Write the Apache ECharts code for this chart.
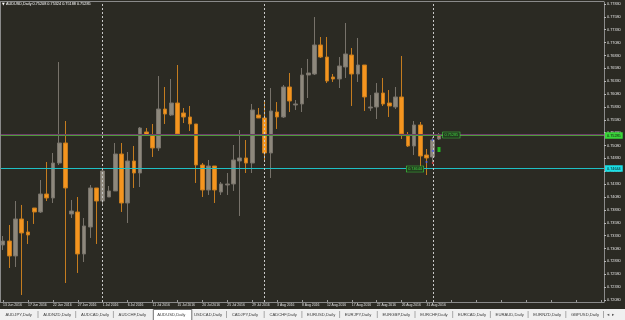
<!DOCTYPE html>
<html><head><meta charset="utf-8">
<script src="https://cdn.jsdelivr.net/npm/echarts@6/dist/echarts.min.js"></script>
<style>html,body{margin:0;padding:0;background:#2b2a23;}#c{width:625px;height:320px;}</style>
</head><body><div id="c"></div>
<script>
const symbolTitle = 'AUDUSD,Daily';
const dates = ['13 Jun 2016','14 Jun 2016','15 Jun 2016','16 Jun 2016','17 Jun 2016','19 Jun 2016','20 Jun 2016','21 Jun 2016','22 Jun 2016','23 Jun 2016',
'24 Jun 2016','26 Jun 2016','27 Jun 2016','28 Jun 2016','29 Jun 2016','30 Jun 2016','1 Jul 2016','3 Jul 2016','4 Jul 2016','5 Jul 2016',
'6 Jul 2016','7 Jul 2016','8 Jul 2016','10 Jul 2016','11 Jul 2016','12 Jul 2016','13 Jul 2016','14 Jul 2016','15 Jul 2016','17 Jul 2016',
'18 Jul 2016','19 Jul 2016','20 Jul 2016','21 Jul 2016','22 Jul 2016','24 Jul 2016','25 Jul 2016','26 Jul 2016','27 Jul 2016','28 Jul 2016',
'29 Jul 2016','31 Jul 2016','1 Aug 2016','2 Aug 2016','3 Aug 2016','4 Aug 2016','5 Aug 2016','7 Aug 2016','8 Aug 2016','9 Aug 2016',
'10 Aug 2016','11 Aug 2016','12 Aug 2016','14 Aug 2016','15 Aug 2016','16 Aug 2016','17 Aug 2016','18 Aug 2016','19 Aug 2016','21 Aug 2016',
'22 Aug 2016','23 Aug 2016','24 Aug 2016','25 Aug 2016','26 Aug 2016','28 Aug 2016','29 Aug 2016','30 Aug 2016','31 Aug 2016','1 Sep 2016',
'2 Sep 2016'];
const opens = [0.73149,0.73226,0.72935,0.73654,0.73401,0.73867,0.73790,0.74139,0.74062,0.74741,
0.75130,0.73751,0.73790,0.72974,0.73498,0.74256,0.74003,0.74081,0.74198,0.74916,
0.73964,0.74780,0.74547,0.75344,0.75285,0.75033,0.75790,0.75674,0.75907,0.75713,
0.75635,0.75499,0.74703,0.74217,0.74683,0.74178,0.74314,0.74334,0.74780,0.74839,
0.74741,0.75674,0.75616,0.74936,0.75732,0.75635,0.76218,0.75868,0.75888,0.76451,
0.76470,0.77034,0.76800,0.76412,0.76373,0.76606,0.76839,0.76470,0.76645,0.75810,
0.75829,0.76101,0.75907,0.75829,0.76024,0.75266,0.75072,0.75480,0.74897,0.74858,
0.75208];
const closes = [0.73226,0.72935,0.73654,0.73382,0.73343,0.73790,0.74139,0.74062,0.74741,0.75130,
0.74256,0.73809,0.72974,0.73518,0.74256,0.74003,0.74586,0.74198,0.74916,0.73964,
0.74780,0.74547,0.75421,0.75285,0.75033,0.75790,0.75693,0.75907,0.75305,0.75635,
0.75499,0.74703,0.74217,0.74683,0.74217,0.74334,0.74334,0.74800,0.74839,0.74741,
0.75771,0.75616,0.74936,0.75752,0.75635,0.76218,0.75946,0.75888,0.76451,0.76490,
0.77034,0.76800,0.76334,0.76373,0.76626,0.76859,0.76470,0.76645,0.76024,0.75829,
0.76101,0.75888,0.75849,0.76024,0.75305,0.75072,0.75480,0.74877,0.74839,0.75188,
0.75285];
const lows = [0.73051,0.72702,0.72721,0.72177,0.73168,0.73557,0.73770,0.74003,0.73964,0.74703,
0.72410,0.73673,0.72605,0.72818,0.73285,0.73168,0.73926,0.74081,0.74198,0.73790,
0.73576,0.74256,0.74275,0.75285,0.74858,0.74975,0.75499,0.75654,0.75305,0.75518,
0.75363,0.74353,0.74081,0.74120,0.73964,0.74120,0.74120,0.74198,0.73712,0.74547,
0.74547,0.75616,0.74800,0.74450,0.75402,0.75616,0.75732,0.75771,0.75732,0.76004,
0.76451,0.76781,0.76295,0.76315,0.76198,0.76393,0.75849,0.76315,0.75752,0.75752,
0.75596,0.75849,0.75635,0.75790,0.75208,0.75052,0.74897,0.74664,0.74508,0.74761,
0.75188];
const highs = [0.73323,0.73537,0.74003,0.73926,0.73615,0.73867,0.74411,0.74761,0.74936,0.76703,
0.75557,0.74023,0.74081,0.73673,0.74314,0.74256,0.74644,0.74295,0.75130,0.75130,
0.74955,0.75072,0.75441,0.75421,0.75499,0.76431,0.76218,0.76373,0.76645,0.75810,
0.75849,0.75499,0.74741,0.74800,0.74683,0.74372,0.74547,0.75091,0.75382,0.75188,
0.75888,0.75810,0.75965,0.76198,0.75926,0.76257,0.76490,0.75965,0.76587,0.76762,
0.77577,0.77189,0.77189,0.76470,0.76800,0.77461,0.76975,0.77170,0.76645,0.76062,
0.76295,0.76393,0.76159,0.76218,0.76820,0.75344,0.75557,0.75538,0.75013,0.75246,
0.75324];
const priceTicks = [0.77830,0.77580,0.77330,0.77080,0.76830,0.76580,0.76330,0.76080,0.75830,0.75580,
0.75330,0.75080,0.74830,0.74580,0.74330,0.74080,0.73830,0.73580,0.73330,0.73080,
0.72830,0.72580,0.72330,0.72080];
const levelLines = [0.75285, 0.74644];
const monthSeparators = ['1 Jul 2016','1 Aug 2016','1 Sep 2016'];
const signalBlue = [[69, 0.75188], [69, 0.74975], [68, 0.74761]];
const signalRed = [[70, 0.75266], [69, 0.74741]];
const signalGreen = [[70, 0.75003]];
const tabNames = ['AUDJPY,Daily','AUDNZD,Daily','AUDCAD,Daily','AUDCHF,Daily','AUDUSD,Daily','USDCAD,Daily','CADJPY,Daily','CADCHF,Daily',
'EURUSD,Daily','EURJPY,Daily','EURGBP,Daily','EURCHF,Daily','EURCAD,Daily','EURAUD,Daily','EURNZD,Daily','GBPUSD,Daily'];
const activeTab = 4;

const FONT = 'Liberation Sans';
const candles = dates.map((d, i) => [opens[i], closes[i], lows[i], highs[i]]);
const last = candles.length - 1;
const titleText = symbolTitle + ' ' + [opens[last], highs[last], lows[last], closes[last]].map(v => v.toFixed(5)).join(' ');

const chart = echarts.init(document.getElementById('c'), null, {renderer: 'canvas'});

const levelColors = ['#4f9a3c', '#1fbfc4'];
const levelLabelBg = ['#39d639', '#19dfe6'];

const markData = monthSeparators.map(m => ({xAxis: m}));

const graphics = [];
graphics.push({type: 'line', shape: {x1: 0, y1: 1.5, x2: 604, y2: 1.5}, style: {stroke: '#8a8a8a', lineWidth: 1}, z: 10});
graphics.push({type: 'line', shape: {x1: 0.5, y1: 2, x2: 0.5, y2: 302}, style: {stroke: '#8a8a8a', lineWidth: 1}, z: 10});
graphics.push({type: 'text', style: {x: 2, y: 4.3, text: '▼', fontSize: 3.5, fill: '#ffffff', verticalAlign: 'middle', fontFamily: 'DejaVu Sans'}, z: 10});
graphics.push({type: 'text', style: {x: 6, y: 4.4, text: titleText, fontSize: 3.8, fill: '#ffffff', verticalAlign: 'middle', fontFamily: FONT}, z: 10});
graphics.push({type: 'rect', shape: {x: 0, y: 309, width: 625, height: 11}, style: {fill: '#f0f0f0'}, z: 10});
tabNames.forEach((t, i) => {
  const x = 5.5 + i * 37.7;
  if (i === activeTab) {
    graphics.push({type: 'rect', shape: {x: x - 3, y: 309.5, width: 38.5, height: 11}, style: {fill: '#ffffff', stroke: '#6f6f6f', lineWidth: 1}, z: 11});
  }
  graphics.push({type: 'text', style: {x: x + (i === activeTab ? 1 : 0), y: 314.5, text: t, fontSize: 4.2, fill: '#3a3a3a', verticalAlign: 'middle', fontFamily: FONT}, z: 12});
  if (i !== activeTab && i !== activeTab - 1) {
    graphics.push({type: 'line', shape: {x1: 38 + i * 37.7, y1: 311, x2: 38 + i * 37.7, y2: 318}, style: {stroke: '#a8a8a8', lineWidth: 1}, z: 11});
  }
});
graphics.push({type: 'text', style: {x: 607, y: 314.5, text: '◂  ▸', fontSize: 4.5, fill: '#555', verticalAlign: 'middle', fontFamily: 'DejaVu Sans'}, z: 12});

chart.setOption({
  animation: false,
  backgroundColor: '#2b2a23',
  grid: {left: -2.12, right: 21, top: 2, bottom: 18, show: false},
  xAxis: {
    type: 'category', data: dates, max: 96, boundaryGap: true,
    axisLine: {show: true, lineStyle: {color: '#8a8a8a', width: 1}},
    axisTick: {show: true, interval: 3, alignWithLabel: true, length: 2, inside: true, lineStyle: {color: '#9a9a9a'}},
    axisLabel: {interval: 3, align: 'left', fontSize: 3.4, color: '#e0e0e0', margin: 2, fontFamily: FONT, formatter: v => v || ''},
    splitLine: {show: false}
  },
  yAxis: {
    type: 'value', position: 'right', min: 0.72041, max: 0.77869,
    axisLine: {show: true, lineStyle: {color: '#8a8a8a', width: 1}},
    axisTick: {show: true, customValues: priceTicks, length: 2, lineStyle: {color: '#bbbbbb'}},
    axisLabel: {customValues: priceTicks, formatter: v => v.toFixed(5), fontSize: 3.8, color: '#e0e0e0', margin: 3, fontFamily: FONT},
    splitLine: {show: false}
  },
  series: [{
    type: 'candlestick',
    data: candles,
    barWidth: 4.2,
    itemStyle: {color: '#8e887c', borderColor: '#77726a', color0: '#f5951f', borderColor0: '#c57c1f', borderWidth: 1},
    markLine: {symbol: 'none', silent: true, animation: false, label: {show: false},
      lineStyle: {color: '#c8c8c8', type: [2, 2], width: 1}, data: markData}
  }, {
    type: 'scatter', data: signalBlue, symbol: 'circle', symbolSize: 2.2, itemStyle: {color: '#4a5cff'}, z: 4, silent: true
  }, {
    type: 'scatter', data: signalRed, symbol: 'circle', symbolSize: 2, itemStyle: {color: '#ff4a4a'}, z: 4, silent: true
  }, {
    type: 'scatter', data: signalGreen, symbol: 'rect', symbolSize: [3, 5], itemStyle: {color: '#22e022'}, z: 4, silent: true
  }],
  graphic: graphics
});

const extra = [];
levelLines.forEach((v, i) => {
  const y = Math.round(chart.convertToPixel({yAxisIndex: 0}, v)) + 0.5;
  if (i === 0) {
    extra.push({type: 'line', z: 5, shape: {x1: 0, y1: y - 1, x2: 604, y2: y - 1}, style: {stroke: '#6e3a6c', lineWidth: 1}});
  }
  extra.push({type: 'line', z: 5, shape: {x1: 0, y1: y, x2: 604, y2: y}, style: {stroke: levelColors[i], lineWidth: 1}});
  extra.push({type: 'text', z: 20, style: {x: 605, y: y, text: v.toFixed(5), fontSize: 3.8, fill: '#111', verticalAlign: 'middle',
    fontFamily: FONT, backgroundColor: levelLabelBg[i], padding: [1.5, 2, 1, 2]}});
});
const tagA = chart.convertToPixel({gridIndex: 0}, [dates[last], levelLines[0]]);
const tagB = chart.convertToPixel({gridIndex: 0}, [dates[64], levelLines[1]]);
[tagA, tagB].forEach((p, i) => extra.push({
  type: 'text', z: 20,
  style: {x: p[0] + (i === 0 ? 4 : 5), y: p[1] + (i === 0 ? 0 : 1), text: levelLines[i].toFixed(5), fontSize: 3.8, fill: '#3fd43f',
    verticalAlign: 'middle', fontFamily: FONT, backgroundColor: '#233a1f', borderColor: '#3fd43f', borderWidth: 0.6, padding: [1, 1.5, 0.5, 1.5]}
}));
chart.setOption({graphic: graphics.concat(extra)});
</script></body></html>
